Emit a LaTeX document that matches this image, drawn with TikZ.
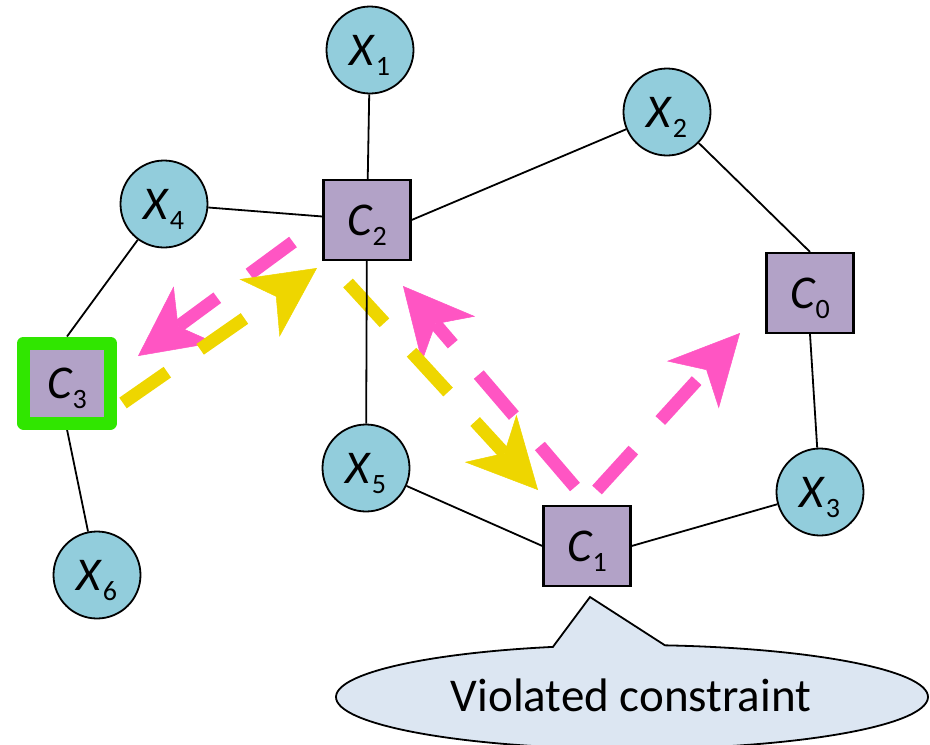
\documentclass[tikz,border=0pt]{standalone}
\usepackage{fontspec}
\setmainfont{Carlito}
\usetikzlibrary{arrows.meta,backgrounds}
\definecolor{circfill}{HTML}{92CDDC}
\definecolor{sqfill}{HTML}{B2A2C7}
\definecolor{hlgreen}{HTML}{30E600}
\definecolor{flowpink}{HTML}{FF55C3}
\definecolor{flowyellow}{HTML}{EED600}
\definecolor{callfill}{HTML}{DCE6F2}
\newcommand{\vlab}[2]{\textit{#1}\raisebox{-10pt}[0pt][0pt]{\fontsize{28}{28}\selectfont #2}}
\begin{document}
\begin{tikzpicture}[x=1pt,y=-1pt,
  var/.style={circle,draw=black,line width=1.8pt,fill=circfill,minimum size=87pt,inner sep=0pt,font=\fontsize{47}{52}\selectfont},
  con/.style={rectangle,draw=black,line width=2.2pt,fill=sqfill,minimum width=87pt,minimum height=80pt,inner sep=0pt,font=\fontsize{47}{52}\selectfont},
  link/.style={draw=black,line width=1.8pt},
  flow/.style={line width=13pt,dash pattern=on 54pt off 40pt,-{Stealth[length=70pt,width=70pt,inset=20pt,line width=0.5pt]}},
]
\useasboundingbox (0,0) rectangle (930,745);

% nodes
\node[var] (X1) at (370,50) {\vlab{X}{1}};
\node[var] (X2) at (667,112) {\vlab{X}{2}};
\node[var] (X4) at (164,204) {\vlab{X}{4}};
\node[var] (X5) at (366,468) {\vlab{X}{5}};
\node[var] (X3) at (820,492) {\vlab{X}{3}};
\node[var] (X6) at (97,575) {\vlab{X}{6}};
\node[con] (C2) at (367,220) {\vlab{C}{2}};
\node[con] (C0) at (810,293) {\vlab{C}{0}};
\node[con] (C1) at (587,546) {\vlab{C}{1}};
\node[con,draw=hlgreen,line width=13pt,line join=round] (C3) at (67,383) {\vlab{C}{3}};

% arrow end points
\coordinate (pa) at (293,242);
\coordinate (pb) at (138,356);
\coordinate (ya) at (123,403);
\coordinate (yb) at (317,268);
\coordinate (yc) at (348,283);
\coordinate (yd) at (538,490);
\coordinate (pc) at (575,487);
\coordinate (pd) at (403,286);
\coordinate (pe) at (597,490);
\coordinate (pf) at (740,333);

\begin{pgfonlayer}{background}
  \draw[flow,flowpink] (pa) -- (pb);
  \draw[flow,flowpink] (pc) -- (pd);
  \draw[flow,flowpink] (pe) -- (pf);
  \draw[flow,flowyellow] (ya) -- (yb);
  \draw[flow,flowyellow] (yc) -- (yd);
  \draw[link] (X1) -- (C2);
  \draw[link] (X4) -- (C2);
  \draw[link] (C2.east) -- (X2);
  \draw[link] (X2) -- (C0.north);
  \draw[link] (C0.south) -- (X3);
  \draw[link] (X5) -- (C1.west);
  \draw[link] (C1.east) -- (X3);
  \draw[link] (C2) -- (X5);
  \draw[link] (X4) -- (C3.north);
  \draw[link] (C3.south) -- (X6);
\end{pgfonlayer}

% callout
\draw[draw=black,line width=1.8pt,fill=callfill,line join=miter,shift={(632,697)}]
  (-83.6:296 and 52) arc[start angle=-83.6,end angle=254.5,x radius=296,y radius=52]
  -- (-42,-100) -- cycle;
\node[font=\fontsize{47}{52}\selectfont,inner sep=0pt] (callout) at (631,695) {Violated constraint};
\end{tikzpicture}
\end{document}
